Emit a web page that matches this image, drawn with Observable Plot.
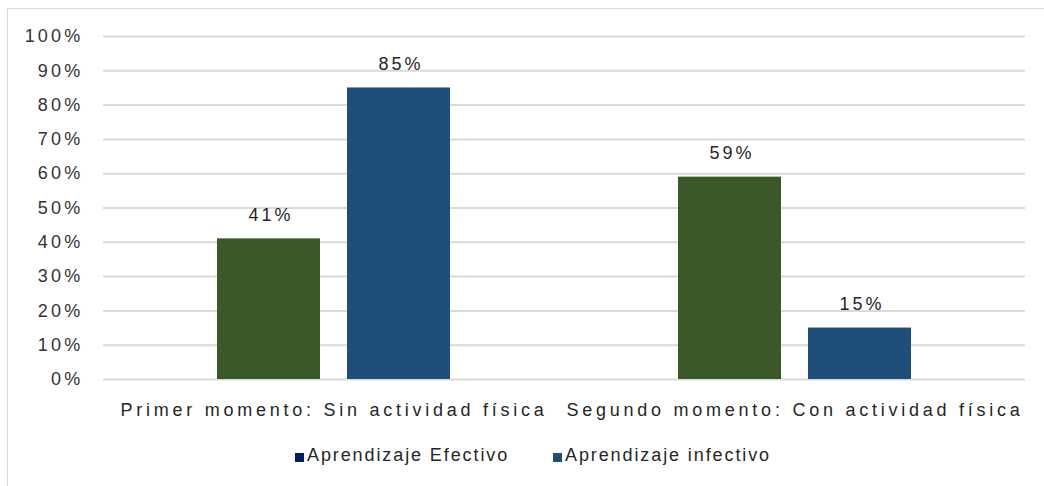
<!DOCTYPE html>
<html>
<head>
<meta charset="utf-8">
<script src="https://cdn.jsdelivr.net/npm/d3@7"></script>
<script src="https://cdn.jsdelivr.net/npm/@observablehq/plot@0.6"></script>
<style>
  html, body { margin: 0; padding: 0; background: #fff; }
  body { width: 1044px; height: 486px; overflow: hidden; position: relative; font-family: "Liberation Sans", Arial, sans-serif; }
  #frame { position: absolute; left: 7px; top: 8px; width: 1100px; height: 600px; border-left: 1px solid #d9d9d9; border-top: 1px solid #d9d9d9; }
  #chart { position: absolute; left: 0; top: 0; }
  #chart g[aria-label="y-axis tick label"] text { letter-spacing: 3.2px; }
  #chart g[aria-label="fx-axis tick label"] text { letter-spacing: 3.75px; }
  #chart g[aria-label="text"] text { letter-spacing: 3px; }
  .lg-item { position: absolute; top: 445px; font-size: 18px; line-height: 20px; color: #262626; letter-spacing: 1.9px; white-space: nowrap; }
  .lg-sw { position: absolute; top: 453px; width: 9px; height: 9px; }
</style>
</head>
<body>
<div id="frame"></div>
<div id="chart"></div>
<div id="legend"></div>
<script>
const categories = ["Primer momento: Sin actividad física", "Segundo momento: Con actividad física"];
const series = ["Aprendizaje Efectivo", "Aprendizaje infectivo"];
const efectivo = [0.41, 0.59];
const infectivo = [0.85, 0.15];
const yTicks = [0, 0.1, 0.2, 0.3, 0.4, 0.5, 0.6, 0.7, 0.8, 0.9, 1.0];
const barColors = ["#3b5828", "#1f4e79"];
const legendColors = ["#002060", "#1f4e79"];

const data = [];
categories.forEach((c, i) => {
  data.push({category: c, series: series[0], value: efectivo[i]});
  data.push({category: c, series: series[1], value: infectivo[i]});
});

const plot = Plot.plot({
  width: 1044,
  height: 430,
  marginLeft: 102,
  marginRight: 19,
  marginTop: 36,
  marginBottom: 51,
  style: {fontFamily: "'Liberation Sans', Arial, sans-serif", background: "transparent"},
  fx: {domain: categories, paddingInner: 0, paddingOuter: 0, label: null},
  x: {domain: series, paddingInner: 0.206, paddingOuter: 0.8645, axis: null},
  y: {domain: [0, 1], label: null},
  color: {domain: series, range: barColors},
  marks: [
    Plot.gridY(yTicks, {stroke: "#d9d9d9", strokeOpacity: 1, strokeWidth: 2}),
    Plot.axisY({ticks: yTicks, tickFormat: d3.format(".0%"), tickSize: 0, tickPadding: 20, fontSize: 18, fill: "#333", label: null}),
    Plot.axisFx({anchor: "bottom", tickSize: 0, tickPadding: 24, fontSize: 18, fill: "#262626", label: null}),
    Plot.barY(data, {fx: "category", x: "series", y: "value", fill: "series"}),
    Plot.text(data, {fx: "category", x: "series", y: "value", text: d => d3.format(".0%")(d.value), dy: -24, dx: 2, fontSize: 18, fill: "#262626"})
  ]
});
document.getElementById("chart").appendChild(plot);

const legend = document.getElementById("legend");
const legendX = [295, 553];
series.forEach((s, i) => {
  const sw = document.createElement("span");
  sw.className = "lg-sw";
  sw.style.left = legendX[i] + "px";
  sw.style.background = legendColors[i];
  legend.appendChild(sw);
  const t = document.createElement("span");
  t.className = "lg-item";
  t.style.left = (legendX[i] + 12) + "px";
  t.textContent = s;
  legend.appendChild(t);
});
</script>
</body>
</html>
